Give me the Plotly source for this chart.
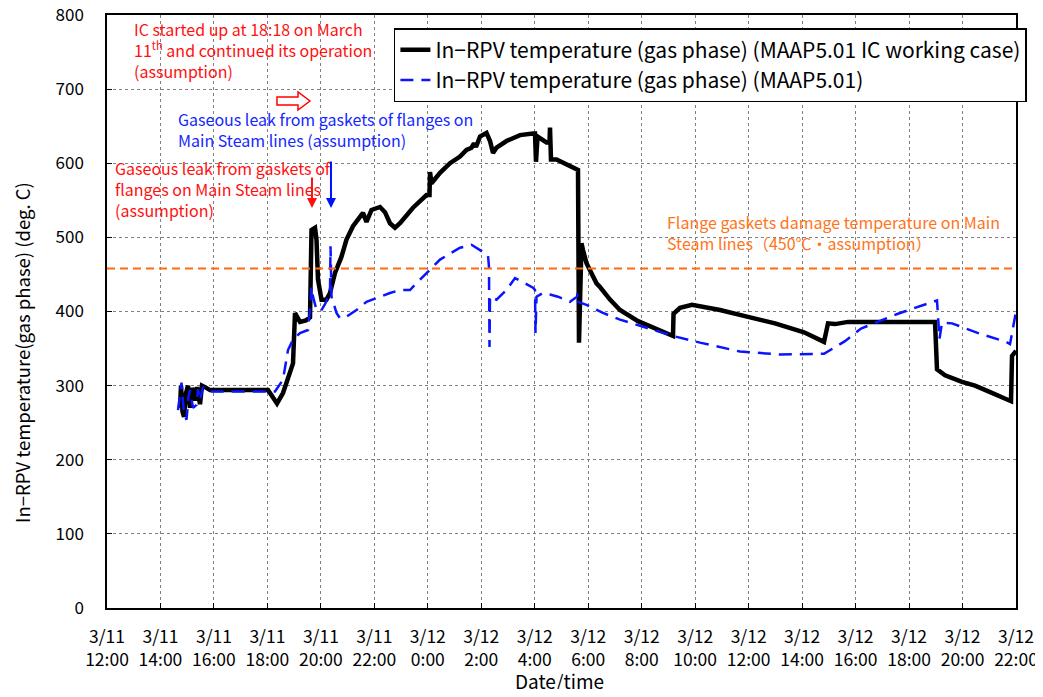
import pandas as pd
import plotly.graph_objects as go

# ---------------- data (hours after 2011-03-11 12:00, deg C) ----------------
BASE_TIME = "2011-03-11 12:00"

ic_hours = [2.731, 2.768, 2.824, 2.880, 2.955, 3.030, 3.105, 3.179, 3.292, 3.366,
            3.479, 3.553, 3.666, 3.853, 6.022, 6.172, 6.359, 6.583, 6.957, 7.032,
            7.219, 7.443, 7.593, 7.649, 7.780, 7.836, 7.892, 8.023, 8.210, 8.341,
            8.528, 8.771, 8.958, 9.201, 9.463, 9.575, 9.706, 9.893, 10.211, 10.398,
            10.585, 10.772, 10.959, 11.202, 11.446, 11.951, 12.063, 12.082, 12.138, 12.456,
            12.830, 13.204, 13.447, 13.634, 13.727, 13.802, 13.952, 14.195, 14.326, 14.438,
            14.569, 14.943, 15.448, 15.934, 16.009, 16.046, 16.103, 16.439, 16.551, 16.570,
            16.607, 16.813, 17.187, 17.617, 17.654, 17.748, 17.804, 17.935, 18.309, 18.440,
            18.814, 19.188, 19.862, 20.497, 21.171, 21.190, 21.433, 21.881, 22.929, 23.939,
            24.986, 26.071, 26.819, 26.968, 27.230, 27.717, 29.662, 30.971, 31.045, 31.345,
            31.980, 32.467, 32.990, 33.215, 33.813, 33.851, 34.000]
ic_temp = [270, 300, 265, 258, 290, 300, 270, 297, 280, 298,
           275, 300, 298, 294, 294, 285, 276, 290, 330, 398,
           386, 388, 392, 510, 513, 497, 443, 416, 416, 425,
           452, 474, 497, 515, 528, 533, 521, 537, 541, 534,
           519, 513, 519, 530, 540, 557, 557, 588, 573, 587,
           600, 609, 618, 621, 627, 622, 636, 641, 630, 614,
           621, 630, 638, 640, 640, 602, 636, 628, 628, 648,
           605, 605, 598, 591, 358, 492, 483, 465, 438, 433,
           416, 402, 387, 377, 367, 397, 405, 409, 402, 393,
           384, 372, 359, 384, 383, 386, 386, 386, 322, 314,
           305, 300, 292, 288, 279, 340, 347]

base_hours = [2.656, 2.787, 2.880, 2.974, 3.048, 3.105, 3.217, 3.348, 3.404, 3.479,
              3.591, 3.703, 3.853, 6.284, 6.583, 6.770, 6.957, 7.219, 7.518, 7.593,
              7.649, 7.705, 7.836, 8.023, 8.154, 8.341, 8.360, 8.397, 8.584, 8.715,
              8.958, 9.332, 9.706, 10.211, 10.585, 10.959, 11.333, 11.708, 12.082, 12.456,
              12.830, 13.204, 13.634, 13.952, 14.251, 14.288, 14.307, 14.326, 14.569, 14.943,
              15.261, 15.691, 15.934, 16.009, 16.028, 16.065, 16.308, 16.570, 16.869, 17.318,
              17.580, 17.599, 17.617, 17.935, 18.552, 19.188, 19.824, 20.497, 21.171, 22.181,
              23.677, 25.173, 26.819, 27.604, 28.203, 29.587, 31.045, 31.139, 31.232, 31.606,
              32.654, 33.626, 33.776, 34.000]
base_temp = [267, 304, 262, 254, 285, 294, 270, 274, 295, 280,
             298, 293, 292, 292, 308, 348, 362, 371, 375, 402,
             433, 420, 402, 402, 410, 425, 488, 420, 398, 391,
             393, 402, 413, 420, 425, 429, 429, 443, 456, 470,
             478, 486, 490, 483, 476, 460, 352, 420, 416, 429,
             445, 437, 432, 429, 371, 420, 425, 423, 420, 413,
             420, 425, 413, 409, 398, 389, 382, 375, 367, 358,
             346, 342, 343, 360, 377, 397, 415, 363, 385, 384,
             370, 359, 356, 400]

FLANGE_DAMAGE_TEMP = 458

tick_hours = [0, 2, 4, 6, 8, 10, 12, 14, 16, 18, 20, 22, 24, 26, 28, 30, 32, 34]
tick_labels = ["3/11<br>12:00", "3/11<br>14:00", "3/11<br>16:00", "3/11<br>18:00",
               "3/11<br>20:00", "3/11<br>22:00", "3/12<br>0:00", "3/12<br>2:00",
               "3/12<br>4:00", "3/12<br>6:00", "3/12<br>8:00", "3/12<br>10:00",
               "3/12<br>12:00", "3/12<br>14:00", "3/12<br>16:00", "3/12<br>18:00",
               "3/12<br>20:00", "3/12<br>22:00"]
y_ticks = [0, 100, 200, 300, 400, 500, 600, 700, 800]

# ---------------- helpers ----------------
base = pd.Timestamp(BASE_TIME)


def to_time(hours):
    return base + pd.to_timedelta(pd.Series(hours), unit="h")


FONT = "Noto Sans CJK JP, Noto Sans, sans-serif"

fig = go.Figure()
fig.add_trace(go.Scatter(
    x=to_time(ic_hours), y=ic_temp, mode="lines",
    name="In\u2212RPV temperature (gas phase) (MAAP5.01 IC working case)",
    line=dict(color="black", width=4.5)))
fig.add_trace(go.Scatter(
    x=to_time(base_hours), y=base_temp, mode="lines",
    name="In\u2212RPV temperature (gas phase) (MAAP5.01)",
    line=dict(color="#0a14ff", width=2.5, dash="13px,8px")))

fig.add_shape(type="line", xref="paper", x0=0, x1=1, yref="y",
              y0=FLANGE_DAMAGE_TEMP, y1=FLANGE_DAMAGE_TEMP,
              line=dict(color="#ff6a10", width=2, dash="8px,5px"))

# hollow red arrow (paper coords)
fig.add_shape(type="path", xref="paper", yref="paper",
              path="M 0.1870 0.8617 L 0.2101 0.8617 L 0.2101 0.8702 L 0.2233 0.8550 "
                   "L 0.2101 0.8398 L 0.2101 0.8482 L 0.1870 0.8482 Z",
              line=dict(color="red", width=1.5), fillcolor="white")

red = "#ff1010"
blue = "#1428ff"
orange = "#ff7420"
ANN = 16
fig.add_annotation(xref="paper", yref="paper", x=0.0275, y=1.0, xanchor="left", yanchor="top",
                   align="left", showarrow=False,
                   text="IC started up at 18:18 on March<br>11<sup>th</sup> and continued its operation<br>(assumption)",
                   font=dict(family=FONT, size=ANN, color=red))
fig.add_annotation(xref="paper", yref="paper", x=0.0759, y=0.848, xanchor="left", yanchor="top",
                   align="left", showarrow=False,
                   text="Gaseous leak from gaskets of flanges on<br>Main Steam lines (assumption)",
                   font=dict(family=FONT, size=ANN, color=blue))
fig.add_annotation(xref="paper", yref="paper", x=0.0066, y=0.7656, xanchor="left", yanchor="top",
                   align="left", showarrow=False,
                   text="Gaseous leak from gaskets of<br>flanges on Main Steam lines<br>(assumption)",
                   font=dict(family=FONT, size=ANN, color=red))
fig.add_annotation(xref="paper", yref="paper", x=0.6139, y=0.6745, xanchor="left", yanchor="top",
                   align="left", showarrow=False,
                   text="Flange gaskets damage temperature on Main<br>Steam lines\uff08450\u2103\u30fbassumption\uff09",
                   font=dict(family=FONT, size=ANN, color=orange))

# vertical arrows
fig.add_annotation(xref="paper", yref="paper", x=0.2255, y=0.6745, ax=0, ay=-32, text="",
                   showarrow=True, arrowhead=2, arrowsize=1, arrowwidth=2, arrowcolor=red,
                   standoff=0)
fig.add_annotation(xref="paper", yref="paper", x=0.2464, y=0.6745, ax=0, ay=-48, text="",
                   showarrow=True, arrowhead=2, arrowsize=1, arrowwidth=2, arrowcolor="#0010ff",
                   standoff=0)

# axis titles placed as text (positions as in the reference)
fig.add_annotation(xref="paper", yref="paper", x=-0.0935, y=0.430, xanchor="center", yanchor="middle",
                   textangle=-90, showarrow=False,
                   text="In\u2212RPV temperature(gas phase) (deg. C)",
                   font=dict(family=FONT, size=18.5, color="black"))
fig.add_annotation(xref="paper", yref="paper", x=0.4983, y=-0.1231, xanchor="center", yanchor="middle",
                   showarrow=False, text="Date/time",
                   font=dict(family=FONT, size=19, color="black"))

# page body has an 8px margin: size the figure so the page fits the 1043x697 window
fig.update_layout(
    width=1027, height=681,
    margin=dict(l=99, r=19, t=7, b=81),
    paper_bgcolor="white", plot_bgcolor="white",
    font=dict(family=FONT, size=17, color="black"),
    showlegend=True,
    legend=dict(x=1.012, xanchor="right", y=0.978, yanchor="top",
                bgcolor="white", bordercolor="black", borderwidth=1.5,
                font=dict(family=FONT, size=21, color="black"),
                tracegroupgap=0),
)
fig.update_xaxes(
    type="date", range=[base, base + pd.Timedelta(hours=34)],
    tickvals=list(to_time(tick_hours)), ticktext=tick_labels,
    showline=True, mirror=True, linecolor="black", linewidth=1.5,
    showgrid=True, gridcolor="#808080", gridwidth=1, griddash="dot",
    ticks="inside", ticklen=5, tickcolor="black",
    tickfont=dict(family=FONT, size=17.5), ticklabelstandoff=12,
    ticklabeloverflow="allow",
    automargin=False, zeroline=False)
fig.update_yaxes(
    range=[0, 800], tickvals=y_ticks,
    showline=True, mirror=True, linecolor="black", linewidth=1.5,
    showgrid=True, gridcolor="#808080", gridwidth=1, griddash="dot",
    ticks="inside", ticklen=5, tickcolor="black",
    tickfont=dict(family=FONT, size=17), ticklabelstandoff=18,
    ticklabeloverflow="allow",
    automargin=False, zeroline=False)

fig.write_html("out.html")
